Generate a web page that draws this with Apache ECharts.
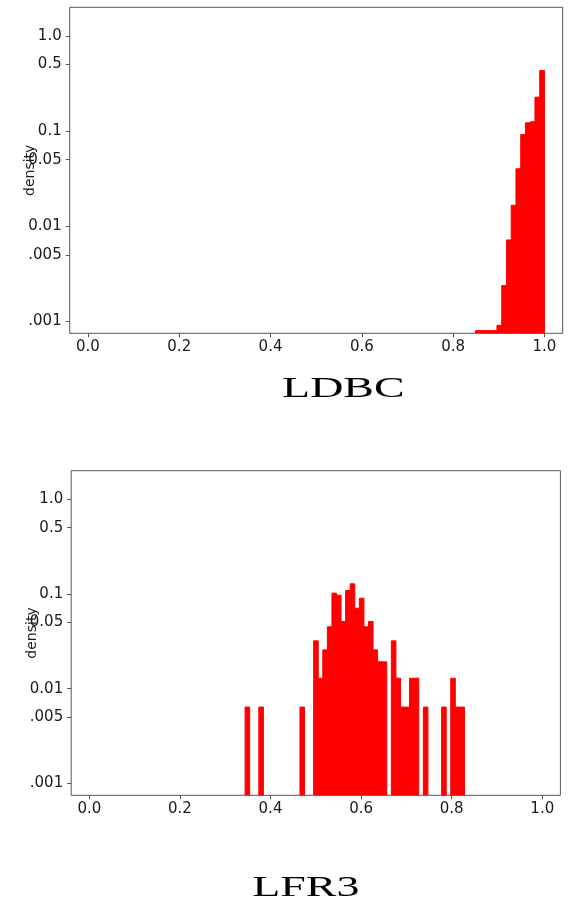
<!DOCTYPE html>
<html>
<head>
<meta charset="utf-8">
<script src="https://cdn.jsdelivr.net/npm/echarts@6/dist/echarts.min.js"></script>
<style>html,body{margin:0;padding:0;background:#fff;}#c{width:570px;height:912px;}</style>
</head>
<body>
<div id="c"></div>
<script>
// ---- data ----
var xTickValues = [0, 0.2, 0.4, 0.6, 0.8, 1.0];
var xTickLabels = ['0.0', '0.2', '0.4', '0.6', '0.8', '1.0'];
var yTickValues = [0.001, 0.005, 0.01, 0.05, 0.1, 0.5, 1.0];
var yTickLabels = ['.001', '.005', '0.01', '0.05', '0.1', '0.5', '1.0'];

var ldbcBinLeft  = [0.849, 0.896, 0.9064, 0.9168, 0.9272, 0.9376, 0.948, 0.9584, 0.9688, 0.9792, 0.9896];
var ldbcBinRight = [0.896, 0.9064, 0.9168, 0.9272, 0.9376, 0.948, 0.9584, 0.9688, 0.9792, 0.9896, 1.0];
var ldbcDensity  = [0.0008, 0.00091, 0.00238, 0.00718, 0.0166, 0.0402, 0.0922, 0.1222, 0.1252, 0.2272, 0.4325];

var lfrBinLeft = [0.3439, 0.3742, 0.4650, 0.4953, 0.5053, 0.5154, 0.5255, 0.5356, 0.5457, 0.5558,
                  0.5659, 0.5760, 0.5861, 0.5962, 0.6062, 0.6163, 0.6264, 0.6365, 0.6466, 0.6668,
                  0.6769, 0.6870, 0.6971, 0.7071, 0.7172, 0.7374, 0.7778, 0.7979, 0.8080, 0.8181];
var lfrBinWidth = 0.0101;
var lfrDensity = [0.0064, 0.0064, 0.0064, 0.032, 0.0129, 0.0257, 0.045, 0.102, 0.097, 0.0512,
                  0.1087, 0.128, 0.0708, 0.090, 0.045, 0.0512, 0.0257, 0.0192, 0.0192, 0.032,
                  0.0129, 0.0064, 0.0064, 0.0129, 0.0129, 0.0064, 0.0064, 0.0129, 0.0064, 0.0064];

var titles = ['LDBC', 'LFR3'];
var yName = 'density';

// ---- build ----
function histData(lefts, rights, dens) {
  return lefts.map(function (l, i) { return [l, rights[i], dens[i]]; });
}
var ldbcData = histData(ldbcBinLeft, ldbcBinRight, ldbcDensity);
var lfrData = histData(lfrBinLeft, lfrBinLeft.map(function (l) { return l + lfrBinWidth; }), lfrDensity);

function fmtX(v) { var i = xTickValues.findIndex(function (t) { return Math.abs(t - v) < 1e-9; }); return i >= 0 ? xTickLabels[i] : ''; }
function fmtY(v) { var i = yTickValues.findIndex(function (t) { return Math.abs(t - v) / t < 1e-6; }); return i >= 0 ? yTickLabels[i] : ''; }

var AX = '#555';
var labelFont = { fontFamily: 'DejaVu Sans', fontSize: 15, color: '#1a1a1a' };

function xAxis(g) {
  return {
    type: 'value', gridIndex: g, min: -0.04, max: 1.04, position: 'bottom',
    axisLine: { show: false, onZero: false },
    splitLine: { show: false },
    axisTick: { show: true, inside: false, length: 4, lineStyle: { color: AX, width: 1 }, customValues: xTickValues },
    axisLabel: Object.assign({ margin: 6, customValues: xTickValues, formatter: fmtX, hideOverlap: false }, labelFont)
  };
}
function yAxis(g) {
  return {
    type: 'log', gridIndex: g, min: 0.00075, max: 2.0, logBase: 10, position: 'left',
    name: yName, nameLocation: 'middle', nameRotate: 90, nameGap: 32, nameMoveOverlap: false,
    nameTextStyle: { fontFamily: 'DejaVu Sans', fontSize: 14, color: '#1a1a1a' },
    axisLine: { show: false, onZero: false },
    splitLine: { show: false },
    minorTick: { show: false },
    axisTick: { show: true, inside: false, length: 4, lineStyle: { color: AX, width: 1 }, customValues: yTickValues },
    axisLabel: Object.assign({ margin: 8, customValues: yTickValues, formatter: fmtY, hideOverlap: false }, labelFont)
  };
}
function renderBar(params, api) {
  var p0 = api.coord([api.value(0), api.value(2)]);
  var p1 = api.coord([api.value(1), api.value(2)]);
  var bottom = params.coordSys.y + params.coordSys.height;
  return {
    type: 'rect',
    shape: { x: p0[0], y: p0[1], width: p1[0] - p0[0], height: bottom - p0[1] },
    style: { fill: '#ff0000', stroke: '#ff0000', lineWidth: 1 }
  };
}

var chart = echarts.init(document.getElementById('c'), null, { renderer: 'canvas' });
chart.setOption({
  animation: false,
  backgroundColor: '#fff',
  grid: [
    { left: 69.7, top: 7.3, width: 493, height: 326, show: true, borderColor: AX, borderWidth: 1, backgroundColor: 'transparent', containLabel: false, outerBoundsMode: 'none' },
    { left: 71.2, top: 470.7, width: 489.2, height: 324.6, show: true, borderColor: AX, borderWidth: 1, backgroundColor: 'transparent', containLabel: false, outerBoundsMode: 'none' }
  ],
  xAxis: [xAxis(0), xAxis(1)],
  yAxis: [yAxis(0), yAxis(1)],
  series: [
    { type: 'custom', xAxisIndex: 0, yAxisIndex: 0, data: ldbcData, renderItem: renderBar, encode: { x: [0, 1], y: 2 }, clip: true },
    { type: 'custom', xAxisIndex: 1, yAxisIndex: 1, data: lfrData, renderItem: renderBar, encode: { x: [0, 1], y: 2 }, clip: true }
  ],
  graphic: [
    { type: 'text', x: 343.3, y: 389.5, scaleX: 1.53, style: { text: titles[0], fontFamily: 'Liberation Serif', fontSize: 30, fill: '#000', textAlign: 'center', textVerticalAlign: 'middle' } },
    { type: 'text', x: 305.8, y: 888.5, scaleX: 1.53, style: { text: titles[1], fontFamily: 'Liberation Serif', fontSize: 30, fill: '#000', textAlign: 'center', textVerticalAlign: 'middle' } }
  ]
});
</script>
</body>
</html>
